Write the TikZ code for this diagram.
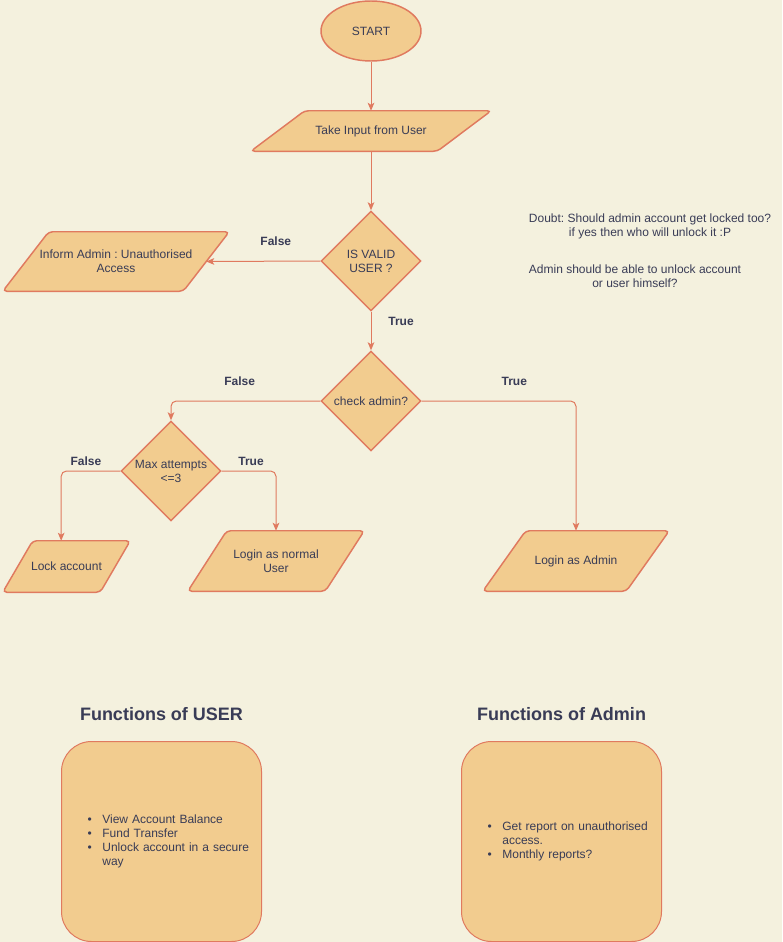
\documentclass[tikz,border=0pt]{standalone}
\usepackage{fontspec}
\setmainfont{Liberation Sans}
\frenchspacing
\usetikzlibrary{arrows.meta,positioning,shapes.geometric,backgrounds}
\definecolor{flowbg}{HTML}{F4F1DE}
\definecolor{flowfill}{HTML}{F2CC8F}
\definecolor{flowline}{HTML}{E07A5F}
\definecolor{flowtext}{HTML}{393C56}

\tikzset{
  base/.style={draw=flowline, fill=flowfill, line width=1.1pt, text=flowtext,
    font=\fontsize{9}{10.5}\selectfont, align=center, inner sep=0pt},
  terminal/.style={base, ellipse, minimum width=75pt, minimum height=45pt},
  decision/.style={base, diamond, minimum width=75pt, minimum height=75pt},
  io/.style={rectangle, text=flowtext, font=\fontsize{9}{10.5}\selectfont, align=center, inner sep=0pt},
  iofill/.style={draw=flowline, fill=flowfill, line width=1.1pt, rounded corners=3pt},
  flow/.style={draw=flowline, line width=0.75pt, rounded corners=4pt,
    -{Stealth[length=6pt,width=5pt,inset=1.5pt]}},
  lbl/.style={text=flowtext, font=\bfseries\fontsize{9}{10.5}\selectfont, inner sep=0pt},
  note/.style={text=flowtext, font=\fontsize{9}{10.5}\selectfont, align=center, inner sep=0pt},
  panel/.style={draw=flowline, fill=flowfill, line width=0.75pt, rounded corners=22.5pt,
    minimum width=150pt, minimum height=150pt, text width=150pt, align=left, inner sep=0pt,
    text=flowtext, font=\fontsize{9}{10.5}\selectfont},
  paneltitle/.style={text=flowtext, font=\bfseries\fontsize{13.5}{16}\selectfont, inner sep=0pt}
}

% slanted outline behind an io node (#2 = half the slant, in px)
\newcommand{\slantbox}[2]{%
  \begin{scope}[on background layer]
    \draw[iofill] ([xshift=-#2*0.75pt]#1.south west) -- ([xshift=#2*0.75pt]#1.north west)
      -- ([xshift=#2*0.75pt]#1.north east) -- ([xshift=-#2*0.75pt]#1.south east) -- cycle;
  \end{scope}}

\begin{document}
\begin{tikzpicture}[x=0.75pt, y=-0.75pt]
  \useasboundingbox (0,0) rectangle (782,942);
  \begin{scope}[on background layer]
    \fill[flowbg] (0,0) rectangle (782,942);
  \end{scope}

  % Main flow
  \node[terminal] (start) at (371,31) {START};
  \node[io, minimum width=139.5pt, minimum height=30pt] (input) at (371,131) {Take Input from User};
  \slantbox{input}{27}
  \node[decision] (valid) at (371,261) {IS VALID\\USER ?};
  \node[io, minimum width=135pt, minimum height=44.25pt] (inform) at (116,261.5) {Inform Admin : Unauthorised\\Access};
  \slantbox{inform}{23}
  \node[decision] (check) at (371,401) {check admin?};
  \node[decision] (maxatt) at (171,471) {Max attempts\\<=3};
  \node[io, minimum width=72.75pt, minimum height=38.25pt] (lock) at (66.5,566.5) {Lock account};
  \slantbox{lock}{15}
  \node[io, minimum width=102.75pt, minimum height=45pt] (normal) at (276,561) {Login as normal\\User};
  \slantbox{normal}{19.5}
  \node[io, minimum width=107.25pt, minimum height=45pt] (admin) at (576,561) {Login as Admin};
  \slantbox{admin}{21.5}

  % Connectors
  \draw[flow] (start) -- (input);
  \draw[flow] (input) -- (valid);
  \draw[flow] (valid.west) -- node[lbl, pos=0.39, yshift=15pt] {False} (inform.east);
  \draw[flow] (valid) -- node[lbl, pos=0.25, xshift=22.5pt] {True} (check);
  \draw[flow] (check.west) -| node[lbl, pos=0.27, yshift=15pt] {False} (maxatt.north);
  \draw[flow] (check.east) -| node[lbl, pos=0.3, yshift=15pt] {True} (admin.north);
  \draw[flow] (maxatt.west) -| node[lbl, pos=0.29, yshift=7.5pt] {False} ([xshift=-4pt]lock.north);
  \draw[flow] (maxatt.east) -| node[lbl, pos=0.27, yshift=7.5pt] {True} (normal.north);

  % Notes
  \node[note] (doubt) at (650,226) {Doubt: Should admin account get locked too?\\if yes then who will unlock it :P};
  \node[note] (unlock) at (635,276) {Admin should be able to unlock account\\or user himself?};

  % Function panels
  \node[panel] (ubox) at (161.5,841.5) {\hspace*{19.5pt}\begin{tabular}{@{}l@{\hspace{8pt}}l@{}}
      \textbullet & View Account Balance\\
      \textbullet & Fund Transfer\\
      \textbullet & Unlock account in a secure\\
                  & way
    \end{tabular}};
  \node[paneltitle, above=15pt of ubox] (utitle) {Functions of USER};

  \node[panel] (abox) at (561.5,841.5) {\hspace*{19.5pt}\begin{tabular}{@{}l@{\hspace{8pt}}l@{}}
      \textbullet & Get report on unauthorised\\
                  & access.\\
      \textbullet & Monthly reports?
    \end{tabular}};
  \node[paneltitle, above=15pt of abox] (atitle) {Functions of Admin};
\end{tikzpicture}
\end{document}
